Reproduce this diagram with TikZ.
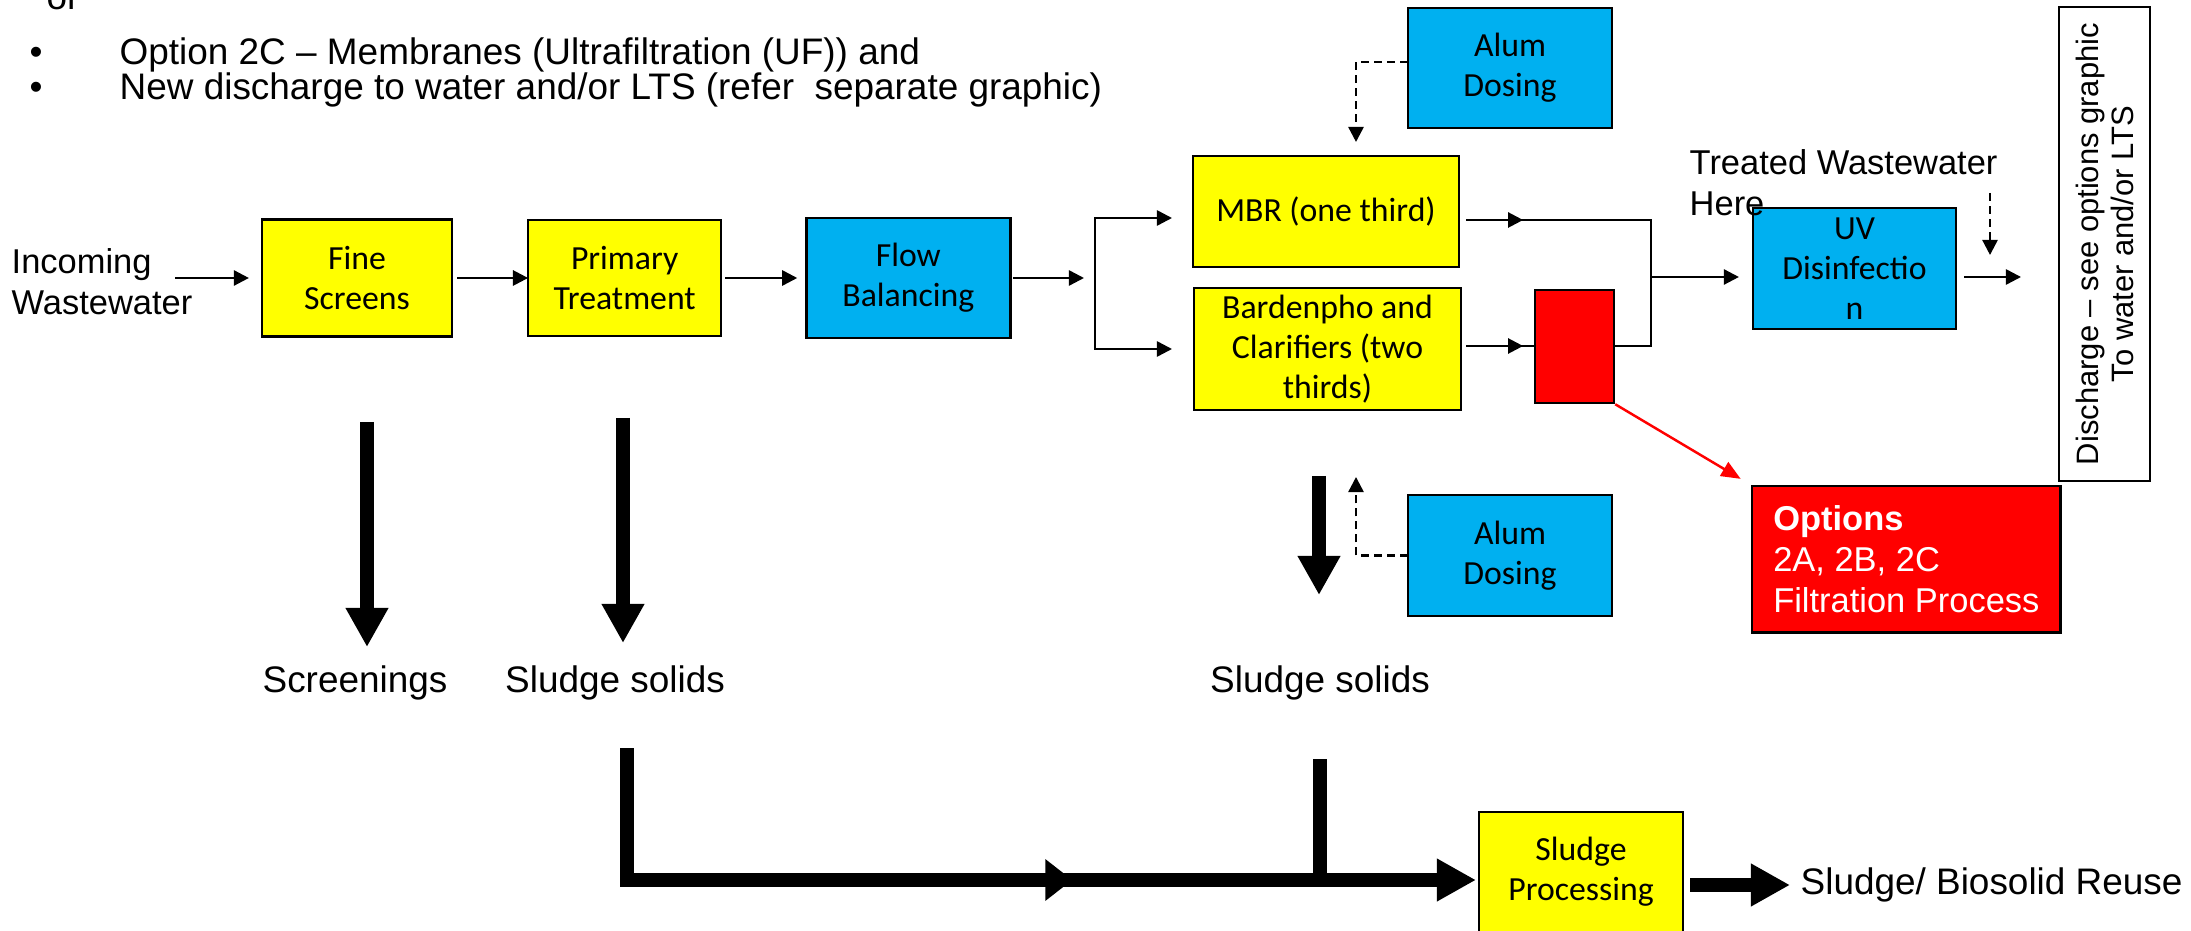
\documentclass[tikz,border=0pt]{standalone}
\usepackage{fontspec}
\setmainfont{Liberation Sans}
\newfontfamily\calibri{Carlito}
\usepackage{tikz}
\usetikzlibrary{arrows.meta, positioning, decorations.markings}
\definecolor{stageyellow}{RGB}{255,255,0}
\definecolor{stageblue}{RGB}{0,176,240}
\definecolor{stagered}{RGB}{255,0,0}

\begin{document}
\begin{tikzpicture}[
    x=0.01cm, y=-0.01cm,
    >={Triangle[length=4.3pt, width=4.3pt]},
    stage/.style={draw, line width=0.7pt, inner sep=0pt, outer sep=0pt, align=center, font=\calibri\fontsize{9.6}{11.4}\selectfont},
    yellowstage/.style={stage, fill=stageyellow},
    bluestage/.style={stage, fill=stageblue},
    hdr/.style={inner sep=0pt, font=\fontsize{10.5}{12}\selectfont},
    txt/.style={inner sep=0pt, align=left, font=\fontsize{9.8}{11.7}\selectfont},
    bigtxt/.style={inner sep=0pt, font=\fontsize{10.5}{12.6}\selectfont},
    flow/.style={->, line width=0.7pt},
    dosing/.style={->, line width=0.7pt, dash pattern=on 2.3pt off 1.4pt},
    redflow/.style={-{Triangle[length=5.5pt, width=4.5pt]}, line width=0.7pt, stagered},
    bigline/.style={line width=3.8pt},
    bigflow/.style={-{Triangle[length=11.1pt, width=11.4pt]}, line width=3.8pt},
    midhead/.style={postaction={decorate}, decoration={markings, mark=at position #1 with {\arrow{>}}}},
    bigmid/.style={postaction={decorate}, decoration={markings, mark=at position #1 with {\arrow{Triangle[length=7.7pt, width=11.4pt]}}}},
]
    \useasboundingbox (0,0) rectangle (2191,931);

    % header notes
    \node[hdr, anchor=base west] (orword) at (46,10) {or};
    \node[hdr, anchor=base] (bulA) at (36,65) {•};
    \node[hdr, anchor=base west] (noteA) at (119,65) {Option 2C – Membranes (Ultrafiltration (UF)) and};
    \node[hdr, anchor=base] (bulB) at (36,100) {•};
    \node[hdr, anchor=base west] (noteB) at (119,100) {New discharge to water and/or LTS (refer\ \ separate graphic)};

    % main line
    \node[txt, anchor=west] (incoming) at (11,282) {Incoming\\Wastewater};
    \node[yellowstage, minimum width=1.90cm, minimum height=1.17cm] (fine) at (357,278) {Fine\\Screens};
    \node[yellowstage, minimum width=1.93cm, minimum height=1.16cm, right=0.76cm of fine] (primary) {Primary\\Treatment};
    \node[bluestage, minimum width=2.04cm, minimum height=1.20cm, right=0.85cm of primary] (balance) {Flow\\Balancing};

    \coordinate (inflow) at (175,278);
    \coordinate (split) at (1095,278);
    \draw[flow, shorten >=0.13cm] (inflow) -- (fine);
    \draw[flow, shorten <=0.05cm] (fine) -- (primary);
    \draw[flow, shorten <=0.04cm, shorten >=0.09cm] (primary) -- (balance);
    \draw[flow, shorten <=0.03cm, shorten >=0.11cm] (balance) -- (split);

    % secondary treatment
    \node[yellowstage, minimum width=2.66cm, minimum height=1.11cm] (mbr) at (1326,211.5) {MBR (one third)};
    \node[yellowstage, minimum width=2.67cm, minimum height=1.22cm] (barden) at (1327.5,349) {Bardenpho and\\Clarifiers (two\\thirds)};
    \node[draw, line width=0.7pt, fill=stagered, inner sep=0pt, minimum width=0.79cm, minimum height=1.13cm] (filterbox) at (1574.5,346.5) {};

    \coordinate (mbrin) at (1172,218);
    \coordinate (bardin) at (1172,349);
    \draw[flow] (split) |- (mbrin);
    \draw[flow] (split) |- (bardin);

    \coordinate (jointop) at (1651,220);
    \coordinate (joinbot) at (1651,346);
    \coordinate (join) at (1651,277);
    \draw[line width=0.7pt, midhead=0.57cm] ([xshift=0.07cm]mbr.east |- jointop) -- (jointop) -- (joinbot) -- (filterbox.east |- joinbot);
    \draw[line width=0.7pt, midhead=0.57cm] ([xshift=0.05cm]barden.east |- joinbot) -- (filterbox.west |- joinbot);

    % dosing
    \node[bluestage, minimum width=2.04cm, minimum height=1.20cm] (alumtop) at (1510,68) {Alum\\Dosing};
    \node[bluestage, minimum width=2.04cm, minimum height=1.21cm] (alumlow) at (1510,555.5) {Alum\\Dosing};
    \coordinate (dosetop) at (1356,142);
    \coordinate (doselow) at (1356,477);
    \draw[dosing] ([yshift=0.06cm]alumtop.west) -| (dosetop);
    \draw[dosing] (alumlow.west) -| (doselow);

    % disinfection and discharge
    \node[bluestage, minimum width=2.03cm, minimum height=1.21cm] (uv) at (1854.5,268.5) {UV\\Disinfectio\\n};
    \node[txt, anchor=west] (treated) at (1689,183) {Treated Wastewater\\Here};
    \draw[flow, shorten >=0.14cm] (join) -- (uv.west |- join);
    \coordinate (uvout) at (2021,277);
    \draw[flow, shorten <=0.08cm] (uv.east |- uvout) -- (uvout);
    \coordinate (twtop) at (1990,193);
    \coordinate (twtip) at (1990,255);
    \draw[dosing] (twtop) -- (twtip);

    \node[draw, line width=0.7pt, rotate=90, inner sep=0pt, minimum width=4.74cm, minimum height=0.91cm, align=center, font=\fontsize{8.8}{10}\selectfont] (discharge) at (2104.5,244) {Discharge – see options graphic\\To water and/or LTS};

    \node[draw, line width=0.7pt, fill=stagered, text=white, anchor=north west, minimum width=3.08cm, inner xsep=0.21cm, inner ysep=0pt, minimum height=1.46cm, align=left, font=\fontsize{9.8}{11.7}\selectfont] (options) at (1751,485) {\textbf{Options}\\2A, 2B, 2C\\Filtration Process};
    \draw[redflow, shorten >=0.12cm] (filterbox.south east) -- (options.north west);

    % solids
    \coordinate (scrtop) at (367,422);
    \coordinate (scrtip) at (367,647);
    \coordinate (prstop) at (623,418);
    \coordinate (prstip) at (623,643);
    \coordinate (secstop) at (1319,476);
    \coordinate (secstip) at (1319,595);
    \draw[bigflow] (scrtop) -- (scrtip);
    \draw[bigflow] (prstop) -- (prstip);
    \draw[bigflow] (secstop) -- (secstip);
    \node[bigtxt] (screenings) at (355,683) {Screenings};
    \node[bigtxt] (solidsA) at (615,683) {Sludge solids};
    \node[bigtxt] (solidsB) at (1320,683) {Sludge solids};

    % sludge line
    \node[yellowstage, minimum width=2.04cm, minimum height=1.20cm] (sludgeproc) at (1581,872) {Sludge\\Processing};
    \coordinate (sltopA) at (627,748);
    \coordinate (sltopB) at (1320,759);
    \coordinate (slbar) at (627,880);
    \draw[bigflow, bigmid=5.77cm, shorten >=0.03cm] (sltopA) -- (slbar) -- (slbar -| sludgeproc.west);
    \draw[bigline] (sltopB) -- (sltopB |- slbar);

    \node[bigtxt, anchor=west] (reuse) at (1800,885) {Sludge/ Biosolid Reuse};
    \draw[bigflow, shorten <=0.07cm, shorten >=0.1cm] (sludgeproc.east |- reuse) -- (reuse.west);
\end{tikzpicture}
\end{document}
